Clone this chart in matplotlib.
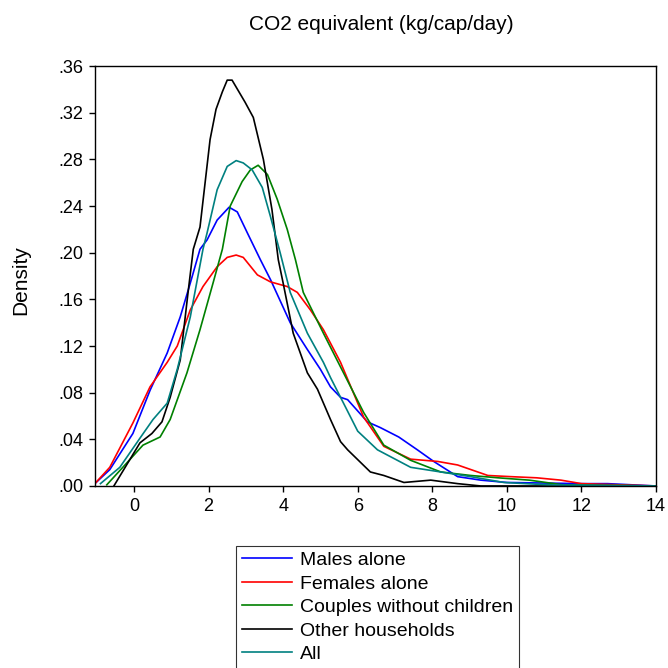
import matplotlib
matplotlib.use("Agg")
import matplotlib.pyplot as plt

plt.rcParams['font.family'] = ['Liberation Sans', 'DejaVu Sans']

# Kernel density curves (x, density)
males_x = [-1.05, -0.65, -0.03, 0.43, 0.89, 1.24, 1.51, 1.77, 1.96, 2.23, 2.55, 2.77, 3.04, 3.39,
           3.66, 4.19, 4.65, 5.0, 5.27, 5.54, 5.73, 6.26, 6.61, 7.1, 7.6, 8.04, 8.68, 9.3, 10.0,
           12.0, 12.7, 14.0]
males_y = [0.002, 0.014, 0.045, 0.082, 0.114, 0.145, 0.174, 0.203, 0.211, 0.228, 0.239, 0.235,
           0.217, 0.194, 0.177, 0.140, 0.117, 0.100, 0.085, 0.076, 0.074, 0.055, 0.050, 0.042,
           0.031, 0.021, 0.008, 0.005, 0.003, 0.002, 0.002, 0.0]

females_x = [-1.05, -0.65, -0.03, 0.43, 0.89, 1.16, 1.51, 1.85, 2.23, 2.5, 2.74, 2.93, 3.31, 3.66,
             4.11, 4.38, 4.73, 5.08, 5.54, 6.16, 6.7, 7.42, 8.15, 8.68, 9.49, 10.1, 10.8, 11.45,
             12.0, 14.0]
females_y = [0.002, 0.016, 0.054, 0.085, 0.106, 0.120, 0.151, 0.171, 0.188, 0.196, 0.198, 0.196,
             0.181, 0.175, 0.171, 0.166, 0.151, 0.134, 0.106, 0.059, 0.034, 0.023, 0.021, 0.018,
             0.009, 0.008, 0.007, 0.005, 0.002, 0.0]

couples_x = [-0.73, -0.3, 0.24, 0.7, 0.97, 1.42, 1.77, 2.12, 2.37, 2.58, 2.9, 3.12, 3.33, 3.58,
             3.84, 4.11, 4.33, 4.54, 5.08, 5.54, 6.16, 6.7, 7.42, 8.23, 9.03, 9.76, 10.6, 11.5, 14.0]
couples_y = [0.001, 0.016, 0.035, 0.042, 0.057, 0.097, 0.134, 0.174, 0.203, 0.240, 0.261, 0.271,
             0.275, 0.267, 0.246, 0.220, 0.194, 0.166, 0.131, 0.102, 0.063, 0.035, 0.022, 0.012,
             0.009, 0.007, 0.005, 0.001, 0.0]

other_x = [-0.54, 0.16, 0.48, 0.75, 0.97, 1.24, 1.45, 1.59, 1.77, 2.04, 2.2, 2.37, 2.5, 2.63, 2.98,
           3.2, 3.47, 3.7, 3.87, 4.0, 4.27, 4.65, 4.92, 5.27, 5.54, 5.73, 6.34, 6.7, 7.24, 7.96,
           8.68, 9.3, 14.0]
other_y = [0.0, 0.037, 0.045, 0.055, 0.076, 0.108, 0.166, 0.203, 0.222, 0.297, 0.323, 0.338,
           0.348, 0.348, 0.329, 0.316, 0.280, 0.237, 0.194, 0.174, 0.131, 0.097, 0.083, 0.057,
           0.038, 0.031, 0.012, 0.009, 0.003, 0.005, 0.002, 0.0, 0.0]

all_x = [-0.9, -0.38, 0.16, 0.51, 0.89, 1.16, 1.51, 1.85, 1.96, 2.23, 2.5, 2.74, 2.93, 3.17, 3.44,
         3.66, 3.92, 4.19, 4.65, 5.08, 5.27, 5.54, 6.0, 6.53, 7.42, 8.23, 9.03, 9.92, 11.1, 14.0]
all_y = [0.002, 0.016, 0.041, 0.057, 0.071, 0.100, 0.145, 0.203, 0.217, 0.254, 0.274, 0.279,
         0.277, 0.271, 0.256, 0.231, 0.200, 0.166, 0.131, 0.106, 0.093, 0.076, 0.047, 0.031,
         0.016, 0.012, 0.008, 0.003, 0.001, 0.0]

series = [
    ("Males alone", males_x, males_y, "#0000FF"),
    ("Females alone", females_x, females_y, "#FF0000"),
    ("Couples without children", couples_x, couples_y, "#008000"),
    ("Other households", other_x, other_y, "#000000"),
    ("All", all_x, all_y, "#008080"),
]

yticks = [0.0, 0.04, 0.08, 0.12, 0.16, 0.20, 0.24, 0.28, 0.32, 0.36]
ytick_labels = [".00", ".04", ".08", ".12", ".16", ".20", ".24", ".28", ".32", ".36"]
xticks = [0, 2, 4, 6, 8, 10, 12, 14]

fig = plt.figure(figsize=(6.68, 6.68), dpi=100)
ax = fig.add_axes([0.142, 0.2725, 0.840, 0.6285])

for label, xs, ys, color in series:
    ax.plot(xs, ys, color=color, linewidth=1.2, label=label)

ax.set_xlim(-1.05, 14)
ax.set_ylim(0, 0.36)
ax.set_xticks(xticks)
ax.set_yticks(yticks)
ax.set_yticklabels(ytick_labels)
ax.tick_params(direction="out", length=4, width=1, labelsize=13, colors="black")
ax.tick_params(axis="y", pad=4)
ax.tick_params(axis="x", pad=5)
ax.tick_params(top=False, right=False)
for sp in ax.spines.values():
    sp.set_linewidth(1.0)
    sp.set_color("black")

ax.set_ylabel("Density", fontsize=15)
ax.yaxis.set_label_coords(-0.115, 0.49)
fig.text(0.571, 0.963, "CO2 equivalent (kg/cap/day)", ha="center", va="center", fontsize=15)

handles, labels = ax.get_legend_handles_labels()
leg = fig.legend(handles, labels, loc="upper left", bbox_to_anchor=(0.353, 0.183),
                 fontsize=14, frameon=True, fancybox=False, handlelength=2.6,
                 handletextpad=0.4, labelspacing=0.3, borderpad=0.3, borderaxespad=0)
leg.get_frame().set_edgecolor("black")
leg.get_frame().set_linewidth(0.8)

fig.savefig("out.png", dpi=100)
